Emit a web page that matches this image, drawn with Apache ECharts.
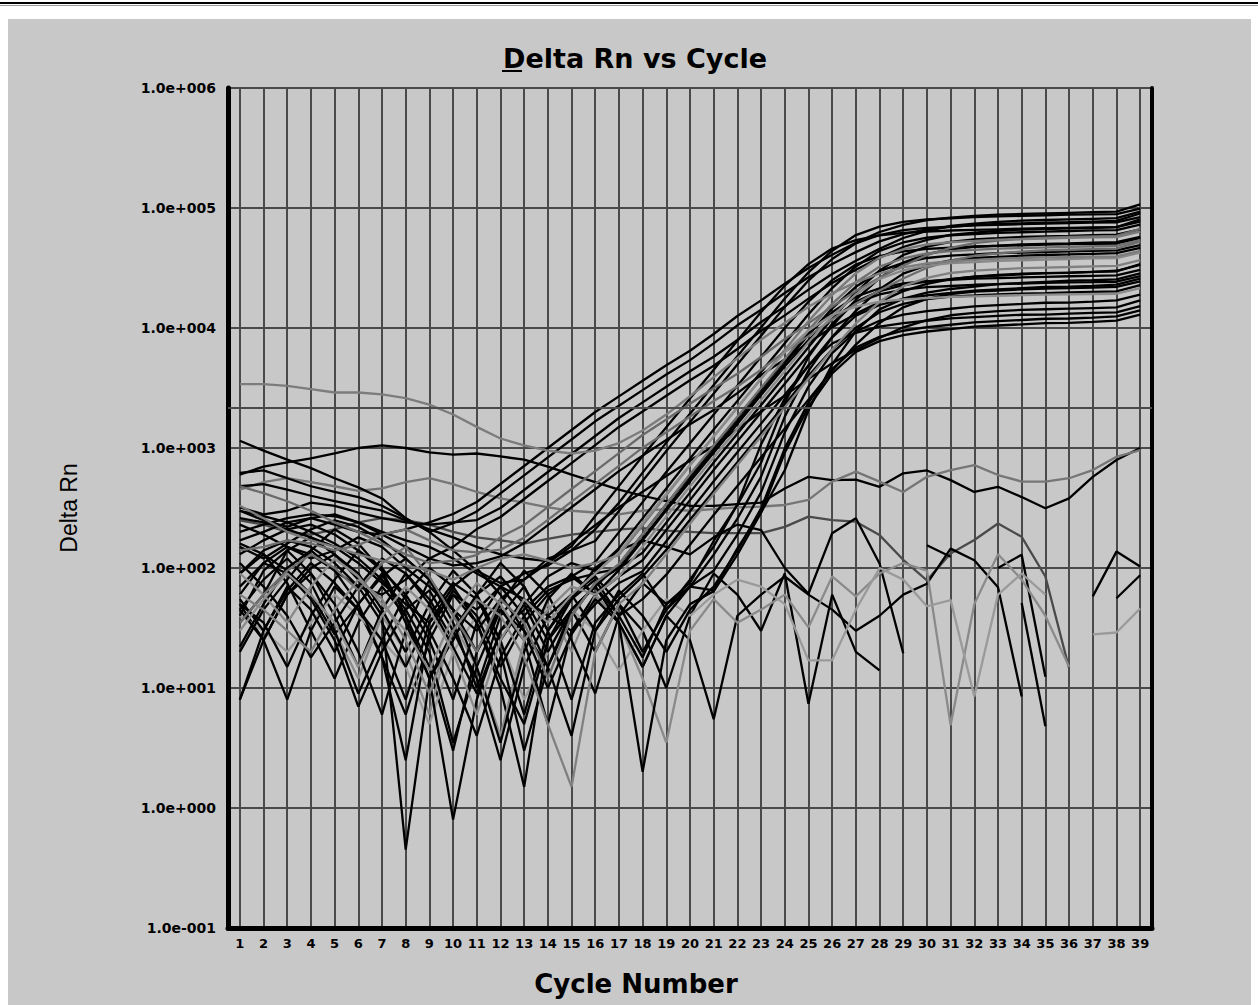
<!DOCTYPE html>
<html><head><meta charset="utf-8">
<script src="https://cdn.jsdelivr.net/npm/echarts@6/dist/echarts.min.js"></script>
<style>
html,body{margin:0;padding:0;background:#fff;width:1258px;height:1005px;overflow:hidden;}
#topline{position:absolute;left:0;top:2px;width:1258px;height:2px;background:#000;}
#topline2{position:absolute;left:0;top:5px;width:1258px;height:1px;background:#999;}
#chart{position:absolute;left:8px;top:19px;width:1243px;height:986px;background:#c8c8c8;}
</style></head><body>
<div id="topline"></div><div id="topline2"></div>
<div id="chart"></div>
<script>
const cycles = [1,2,3,4,5,6,7,8,9,10,11,12,13,14,15,16,17,18,19,20,21,22,23,24,25,26,27,28,29,30,31,32,33,34,35,36,37,38,39];
const threshold = 2150;

// amplification curves (Delta Rn per cycle)
const C1 = [170,200,240,260,230,200,190,210,240,282,355,501,708,1000,1413,1995,2692,3631,4898,6457,8913,12589,16982,23442,31623,40738,51286,63096,72444,79433,83176,86099,88105,89125,90157,91201,92257,93325,107000];
const C2 = [320,280,300,350,330,290,260,240,230,240,251,316,447,631,891,1259,1778,2399,3236,4365,5754,7943,11220,15136,20893,28184,36308,45709,56234,64565,70795,74131,76736,78524,79433,80353,81283,82224,93300];
const C3 = [60,110,150,130,95,70,60,80,120,150,211,266,376,531,749,1057,1498,2016,2723,3675,4844,6685,9450,12740,17570,23730,30590,38500,47320,54320,59570,62370,64610,66080,66850,67620,68390,69230,80500];
const C4 = [40,95,140,180,150,110,75,50,35,60,45,70,90,105,140,210,350,623,1109,1927,3344,5817,10120,17600,29130,44090,59490,69870,76650,80260,82100,84040,85010,85980,87030,88000,88500,89000,98600];
const C5 = [230,190,150,120,140,180,150,100,70,45,30,55,80,120,140,168,299,531,945,1643,2850,4958,8625,15000,24830,37580,50700,59550,65330,68400,69980,71630,72450,73280,74180,75000,75400,75800,84000];
const C6 = [480,420,360,300,240,200,160,130,110,115,128,181,228,322,455,642,906,1284,1728,2334,3150,4152,5730,8100,10920,15060,20340,26220,33000,40560,46560,51060,53460,55380,56640,57300,57960,58620,67000];
const C7 = [20,45,80,140,210,160,95,40,12,30,60,25,50,85,110,95,146,259,460,819,1424,2470,4297,7475,13000,21520,32570,43940,51610,56620,59280,60650,62080,62790,63510,64290,65000,65400,72800];
const C8 = [330,260,200,170,150,130,115,105,95,80,100,120,130,115,100,110,128,227,404,718,1248,2166,3768,6555,11400,18870,28560,38530,45260,49650,51980,53180,54440,55060,55690,56370,57000,57300,63500];
const C9 = [110,70,40,18,35,70,120,90,50,22,9,30,45,70,85,112,199,354,630,1095,1900,3305,5750,10000,16550,25050,33800,39700,43550,45600,46650,47750,48300,48850,49450,50000,50300,50600,56000];
const C10 = [140,150,170,160,140,155,190,210,170,140,135,142,179,252,357,503,710,1006,1354,1828,2468,3252,4489,6345,8554,11800,15930,20540,25850,31770,36470,40000,41880,43380,44370,44890,45400,45920,52500];
const C11 = [55,30,65,110,75,45,25,8,35,70,100,60,30,15,40,75,100,134,239,425,756,1314,2280,3966,6900,12000,19860,30060,40560,47640,52260,54720,55980,57300,57960,58620,59340,60000,66500];
const C12 = [260,240,210,230,190,140,95,60,30,12,4,18,40,65,80,90,99,175,312,554,964,1672,2908,5060,8800,14560,22040,29740,34940,38320,40130,41050,42020,42500,42990,43520,44000,44300,49000];
const C13 = [8,25,60,90,50,20,6,30,80,45,15,3.5,20,55,90,60,85,116,207,368,655,1139,1976,3437,5980,10400,17210,26050,35150,41290,45290,47420,48520,49660,50230,50800,51430,52000,57500];
const C14 = [90,60,35,70,120,85,50,30,14,40,75,50,25,45,70,60,85,151,269,479,832,1444,2512,4370,7600,12580,19040,25690,30170,33100,34660,35450,36290,36710,37130,37580,38000,38300,42500];
const C15 = [300,250,220,260,280,240,190,150,120,105,110,125,161,228,321,453,642,864,1167,1575,2076,2865,4050,5460,7530,10170,13110,16500,20280,23280,25530,26730,27690,28320,28650,28980,29310,29670,34000];
const C16 = [35,60,95,130,100,65,110,150,85,40,20,55,35,12,40,75,108,191,340,605,1051,1824,3173,5520,9600,15890,24050,32450,38110,41810,43780,44780,45840,46370,46900,47470,48000,48400,54000];
const C17 = [45,80,120,75,30,9,25,60,100,70,35,12,5,25,55,80,40,18,50,70,65,146,291,653,2064,4966,9438,14300,17580,19730,21140,22130,23170,23710,24260,24830,25000,25400,28500];
const C18 = [620,650,560,480,430,390,330,260,200,140,95,75,80,110,152,271,481,857,1489,2584,4495,7820,13600,22510,34070,45970,53990,59230,62020,63440,64940,65690,66440,67250,68000,68400,68800,69200,77000];
const C19 = [160,130,95,60,28,50,85,120,80,35,10,40,70,30,8,35,60,90,45,70,129,258,577,1826,4393,8349,12650,15550,17460,18700,19570,20490,20980,21460,21970,22100,22470,23000,25800];
const C20 = [200,230,260,280,270,240,200,170,150,120,90,70,55,40,30,50,75,94,167,297,529,920,1596,2776,4830,8400,13900,21040,28390,33350,36580,38300,39190,40110,40570,41030,41540,42000,46500];
const C21 = [70,110,90,55,25,7,20,45,65,30,12,2.5,15,40,60,30,55,85,142,252,438,760,1322,2300,4000,6620,10020,13520,15880,17420,18240,18660,19100,19320,19540,19780,20000,20200,22800];
const C22 = [300,270,240,200,160,120,80,45,20,3.5,15,45,30,10,28,55,35,15,40,70,95,190,427,1350,3247,6171,9350,11490,12900,13820,14470,15150,15500,15860,16240,16300,16610,17000,19000];
const C23 = [60,45,30,20,45,80,55,25,9,30,55,40,18,5,1.5,20,50,74,131,234,416,723,1254,2181,3795,6600,10920,16530,22310,26200,28740,30100,30790,31520,31880,32240,32640,33000,36800];
const C24 = [480,500,450,400,360,330,300,250,210,180,150,130,120,114,161,227,321,432,584,788,1038,1433,2025,2730,3765,5085,6555,8250,10140,11640,12770,13370,13850,14160,14330,14490,14660,14840,17000];
const C25 = [90,140,170,150,110,70,35,15,40,75,55,25,6,30,60,85,50,20,45,80,151,339,1072,2579,4901,7425,9126,10250,10980,11490,12030,12310,12600,12890,12950,13190,13350,13500,15200];
const C26 = [8,30,70,45,20,50,90,35,12,0.8,8,30,55,25,45,70,35,2,25,50,64,129,289,913,2197,4175,6325,7774,8729,9350,9787,10250,10490,10730,10980,11050,11240,11500,12900];
const C27 = [45,25,60,100,130,90,45,20,50,95,60,20,3,15,45,70,107,191,340,591,1026,1785,3105,5400,8937,13530,18250,21440,23520,24620,25190,25790,26080,26380,26700,27000,27200,27400,30500];
const C28 = [3400,3400,3300,3100,2900,2900,2800,2600,2300,1900,1500,1200,1050,950,900,950,1100,1400,1900,2700,3900,5600,8000,11000,15000,19500,24000,28500,32000,34500,36000,37000,37800,38300,38700,39000,39300,39600,44000];
const C29 = [1150,950,800,680,560,470,380,260,200,236,296,419,592,835,1178,1669,2246,3034,4095,5398,7449,10530,14200,19580,26440,34090,42900,52730,60530,66380,69500,71990,73630,74490,75350,76210,77140,78000,90000];
const C30 = [30,55,90,60,35,15,40,70,45,20,6,25,55,35,60,90,135,239,416,722,1256,2185,3800,6289,9519,12840,15090,16550,17330,17730,18150,18350,18560,18790,19000,19100,19200,19300,21500];
const C31 = [50,35,15,40,80,140,100,55,25,8,35,70,40,15,4,30,65,40,20,45,70,140,314,993,2388,4538,6875,8450,9488,10160,10640,11140,11400,11660,11940,12000,12210,12500,14000];
const C32 = [130,170,210,180,130,80,40,0.45,12,25,60,85,50,20,45,70,40,55,88,156,277,482,836,1454,2530,4400,7282,11020,14870,17470,19160,20060,20530,21010,21250,21490,21760,22000,24500];
const C33 = [150,120,160,210,250,220,170,120,80,45,20,50,95,60,25,9,40,75,50,75,168,336,753,2382,5730,10890,16500,20280,22770,24390,25530,26730,27360,27990,28650,28800,29310,30000,33500];
const C34 = [22,50,100,140,95,50,18,2.5,30,65,40,15,35,60,85,60,96,170,302,526,912,1586,2760,4800,7944,12020,16220,19060,20900,21890,22390,22920,23180,23450,23740,24000,24100,24300,27000];

// non-amplifying wells (null = no positive value)
const N1 = [600,700,760,820,900,1000,1050,1000,920,880,900,850,800,700,600,520,450,400,360,330,330,340,350,460,575,540,545,475,615,650,540,430,475,390,315,380,575,795,1000];
const N2 = [450,520,560,520,480,440,460,520,560,500,430,380,350,320,300,290,280,300,310,300,310,320,325,335,370,525,635,525,430,575,655,720,595,525,525,560,655,845,960];
const N3 = [250,230,200,190,210,240,260,250,230,200,180,170,160,175,190,200,210,215,205,200,195,195,195,220,268,251,243,188,117,79,132,171,235,182,85,14.6,null,null,null];
const N4 = [35,60,140,90,40,15,45,90,55,25,60,110,70,30,55,100,140,170,150,130,180,230,207,100,61,195,260,109,19.5,null,null,null,null,null,null,null,null,null,null];
const N5 = [90,130,75,30,12,35,70,40,15,3,20,45,25,5,30,60,35,15,40,25,5.5,40,60,85,60,45,30,40,60,74,145,116,69,8.5,null,null,null,null,null];
const N6 = [50,25,8,30,70,45,18,6,25,60,35,10,1.5,25,45,20,50,30,10,40,90,60,30,90,7.4,60,20,14,null,null,null,null,100,129,12.4,null,null,null,null];
const N7 = [null,null,null,null,30,12,40,20,6,35,15,4,25,50,20,60,35,12,3.5,30,55,35,45,60,32,85,58,90,110,95,4.9,50,130,80,40,15,null,null,null];
const N8 = [40,30,20,35,60,40,25,15,5,20,40,25,8,20,45,30,14,30,55,40,60,80,70,50,17,17,45,100,80,48,54,8.5,60,90,60,null,28,29,46];
const N9 = [null,null,null,null,null,null,null,null,null,null,null,null,null,null,null,null,null,null,null,null,null,null,null,null,null,null,null,null,null,null,null,null,null,null,null,null,58,137,103];
const N10 = [null,null,null,null,null,null,null,null,null,null,null,null,null,null,null,null,null,null,null,null,null,null,null,null,null,null,null,null,null,null,null,null,null,null,null,null,null,56,87];
const N11 = [null,null,null,null,null,null,null,null,null,null,null,null,null,null,null,null,null,null,null,null,null,null,null,null,null,null,null,null,null,155,124,null,null,null,null,null,null,null,null];
const N12 = [null,null,null,null,null,null,null,null,null,null,null,null,null,null,null,null,null,null,null,null,null,null,null,null,null,null,null,null,null,null,null,null,null,51,4.8,null,null,null,null];

const wells = {N1,N2,N3,N4,N5,N6,N7,N8,N9,N10,N11,N12,
  C1,C2,C3,C4,C5,C7,C9,C11,C12,C13,C15,C17,C18,C19,C20,C21,C22,C24,C25,C26,C27,C29,C31,C32,C33,C34,
  C6,C8,C10,C14,C16,C23,C28,C30};

// styling (kept apart from the data)
const GREY = {N2:'#767676', N3:'#4a4a4a', N7:'#8a8a8a', N8:'#9a9a9a',
  C6:'#6a6a6a', C8:'#7a7a7a', C10:'#6e6e6e', C14:'#888888', C16:'#707070', C23:'#808080', C28:'#7c7c7c', C30:'#8c8c8c'};
const GRID_COLOR = '#4a4a4a';

const series = Object.keys(wells).map(name => ({
  type: 'line', name: name,
  data: wells[name].map((v, i) => [cycles[i], v == null ? '-' : v]),
  showSymbol: false, symbol: 'none', silent: true,
  lineStyle: {width: 2.3, color: GREY[name] || '#000000'},
  connectNulls: false
}));
series[0].markLine = {
  silent: true, symbol: 'none', label: {show: false},
  lineStyle: {color: GRID_COLOR, width: 2, type: 'solid'},
  data: [{yAxis: threshold}]
};

function sci(v) {
  const e = Math.round(Math.log10(v));
  return '1.0e' + (e < 0 ? '-' : '+') + String(Math.abs(e)).padStart(3, '0');
}

const chart = echarts.init(document.getElementById('chart'), null, {renderer: 'svg'});
chart.setOption({
  animation: false,
  title: {
    text: 'Delta Rn vs Cycle', left: 490, top: 21,
    textStyle: {fontFamily: 'DejaVu Sans', fontWeight: 'bold', fontSize: 27, color: '#000'}
  },
  graphic: [{type: 'rect', left: 494, top: 51, shape: {width: 20, height: 2}, style: {fill: '#000'}, silent: true}],
  grid: {left: 220, right: 99, top: 69, bottom: 77, containLabel: false, outerBoundsMode: 'none'},
  xAxis: {
    type: 'value', min: 0.5, max: 39.5,
    name: 'Cycle Number', nameLocation: 'middle', nameGap: 43,
    nameTextStyle: {fontFamily: 'DejaVu Sans', fontWeight: 'bold', fontSize: 26, color: '#000', padding: [0, 108, 0, 0]},
    axisLine: {show: true, onZero: false, lineStyle: {color: '#000', width: 5}},
    axisTick: {show: false, customValues: cycles},
    axisLabel: {customValues: cycles, margin: 9, fontFamily: 'DejaVu Sans', fontWeight: 'bold', fontSize: 13, color: '#000'},
    splitLine: {show: true, lineStyle: {color: GRID_COLOR, width: 2}}
  },
  yAxis: [{
    type: 'log', logBase: 10, min: 0.1, max: 1000000, splitNumber: 7,
    name: 'Delta Rn', nameLocation: 'middle', nameGap: 148,
    nameTextStyle: {fontFamily: 'Liberation Sans', fontSize: 23, color: '#000'},
    axisLine: {show: true, lineStyle: {color: '#000', width: 5}},
    axisTick: {show: false},
    axisLabel: {formatter: sci, margin: 12, fontFamily: 'DejaVu Sans', fontWeight: 'bold', fontSize: 14, color: '#000'},
    splitLine: {show: true, lineStyle: {color: GRID_COLOR, width: 2}}
  }, {
    type: 'log', logBase: 10, min: 0.1, max: 1000000, position: 'right',
    axisLine: {show: true, lineStyle: {color: '#000', width: 4}},
    axisTick: {show: false}, axisLabel: {show: false}, splitLine: {show: false}
  }],
  series: series
});
</script>
</body></html>
